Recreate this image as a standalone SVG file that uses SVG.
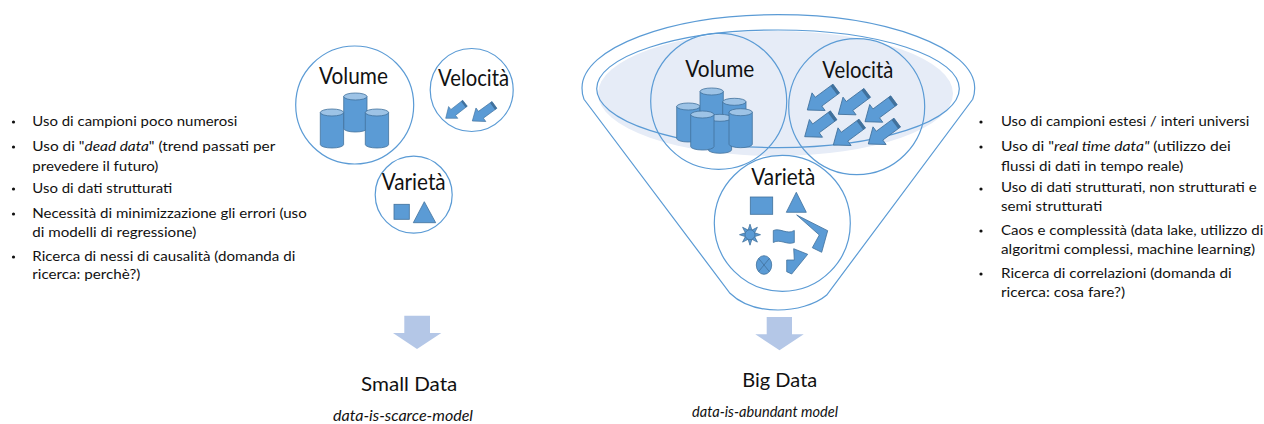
<svg xmlns="http://www.w3.org/2000/svg" xmlns:xlink="http://www.w3.org/1999/xlink" width="1264" height="424" viewBox="0 0 1264 424">
<style>
text{font-family:"Lato","Open Sans","Liberation Sans",sans-serif;fill:#111}
.t{font-size:23.5px}
.h{font-size:20px}
.s{font-size:15px;font-style:italic}
.b{font-size:13px}
.i{font-style:italic}
.ring{fill:none;stroke:#5b9bd5;stroke-width:1.2}
.shape{fill:#5b9bd5;stroke:#41719c;stroke-width:.8}
.top{fill:#9dc3e6;stroke:#41719c;stroke-width:.8}
.cap{fill:#41719c}
.down{fill:#b4c7e7}
.dot{fill:#111}
</style>
<defs>
<g id="cyl">
<path class="shape" d="M0 3.5V35.5A11.65 3.5 0 0 0 23.3 35.5V3.5Z"/>
<ellipse class="top" cx="11.65" cy="3.5" rx="11.65" ry="3.5"/>
</g>
<g id="arr">
<polygon class="shape" points="0,0 14,-11 14,-5.5 36,-5.5 36,5.5 14,5.5 14,11"/>
<rect class="cap" x="33" y="-5.5" width="3" height="11"/>
</g>
</defs>
<rect width="1264" height="424" fill="#fff"/>

<g id="small-volume">
<circle class="ring" cx="354.7" cy="105" r="59"/>
<text class="t" x="319" y="84" textLength="69" lengthAdjust="spacingAndGlyphs">Volume</text>
<use xlink:href="#cyl" x="343.7" y="93"/>
<use xlink:href="#cyl" x="320.3" y="109"/>
<use xlink:href="#cyl" x="365.3" y="109"/>
</g>
<g id="small-velocita">
<circle class="ring" cx="471.7" cy="90" r="41.5"/>
<text class="t" x="438" y="86" textLength="71" lengthAdjust="spacingAndGlyphs">Velocità</text>
<use xlink:href="#arr" transform="translate(445.7 118.3) rotate(-38) scale(.68)"/>
<use xlink:href="#arr" transform="translate(472.3 121) rotate(-36) scale(.76)"/>
</g>
<g id="small-varieta">
<circle class="ring" cx="413.7" cy="194.7" r="38.5"/>
<text class="t" x="381.7" y="190" textLength="64" lengthAdjust="spacingAndGlyphs">Varietà</text>
<rect class="shape" x="394" y="204.3" width="15.3" height="15"/>
<polygon class="shape" points="424.3,201.7 413.3,222.7 435.7,222.7"/>
</g>

<g id="funnel">
<ellipse cx="775.5" cy="93.5" rx="177.5" ry="62.5" fill="#e6ecf7"/>
<path class="ring" d="M584 99.3C582 95 582 91 582 88C582 48 670 14.7 778 14.7C886 14.7 974.7 48 974.7 88C974.7 92 974 96 972.7 99.3L826.7 295C815 305 795 310 778 310C760 310 742 305 730 293.3Z"/>
<ellipse class="ring" cx="778" cy="88.8" rx="181.3" ry="58.8"/>
</g>
<g id="big-volume">
<circle class="ring" cx="718.7" cy="101.3" r="68"/>
<text class="t" x="685.3" y="76.7" textLength="69" lengthAdjust="spacingAndGlyphs">Volume</text>
<use xlink:href="#cyl" x="676.7" y="103"/>
<use xlink:href="#cyl" x="700" y="88"/>
<use xlink:href="#cyl" x="722.7" y="98.3"/>
<use xlink:href="#cyl" x="708.3" y="114.3"/>
<use xlink:href="#cyl" x="690.7" y="111"/>
<use xlink:href="#cyl" x="729" y="108.7"/>
</g>
<g id="big-velocita">
<circle class="ring" cx="856.7" cy="106.7" r="68"/>
<text class="t" x="822.3" y="78" textLength="71" lengthAdjust="spacingAndGlyphs">Velocità</text>
<use xlink:href="#arr" transform="translate(807.3 110) rotate(-36.5)"/>
<use xlink:href="#arr" transform="translate(838.3 114.3) rotate(-36.5)"/>
<use xlink:href="#arr" transform="translate(865 121.7) rotate(-36.5)"/>
<use xlink:href="#arr" transform="translate(804.7 136.7) rotate(-36.5)"/>
<use xlink:href="#arr" transform="translate(833.3 145) rotate(-36.5)"/>
<use xlink:href="#arr" transform="translate(868.3 144) rotate(-36.5)"/>
</g>
<g id="big-varieta">
<circle class="ring" cx="782.3" cy="223.3" r="68"/>
<text class="t" x="751.3" y="185.3" textLength="64" lengthAdjust="spacingAndGlyphs">Varietà</text>
<rect class="shape" x="750.3" y="197" width="22.4" height="17.3"/>
<polygon class="shape" points="796.3,192.3 786.3,212.3 806.3,212.3"/>
<polygon class="shape" points="796.7,215 827.7,230.7 821.7,252.3 812.3,247.7 819.3,235"/>
<polygon class="shape" points="760.5,234.7 754.6,236.6 757.4,242.1 751.9,239.3 750,245.2 748.1,239.3 742.6,242.1 745.4,236.6 739.5,234.7 745.4,232.8 742.6,227.3 748.1,230.1 750,224.2 751.9,230.1 757.4,227.3 754.6,232.8"/>
<circle class="shape" cx="750" cy="234.7" r="5"/>
<path class="shape" d="M773.3 230.5C780 227.5 787 235 794.3 230.5V242.5C787 245.5 780 238.5 773.3 242.5Z"/>
<ellipse class="shape" cx="764" cy="265" rx="7.7" ry="9.3"/>
<path d="M758.6 258.4L769.4 271.6M769.4 258.4L758.6 271.6" stroke="#41719c" stroke-width=".8" fill="none"/>
<polygon class="shape" points="786.7,260 794.3,260 793.7,248.7 807.7,254.3 791.7,274 786.7,271.7"/>
</g>

<g id="connectors">
<polygon class="down" points="404.3,315.7 430,315.7 430,333 441.3,333 417,349 393,333 404.3,333"/>
<polygon class="down" points="766.7,317 792,317 792,334.3 803.7,334.3 779.5,350.3 755.3,334.3 766.7,334.3"/>
</g>

<g id="small-data-label">
<text class="h" x="361" y="391" textLength="96.3" lengthAdjust="spacingAndGlyphs">Small Data</text>
<text class="s" x="333" y="420.7" textLength="140" lengthAdjust="spacingAndGlyphs">data-is-scarce-model</text>
</g>
<g id="big-data-label">
<text class="h" x="742.3" y="387" textLength="75" lengthAdjust="spacingAndGlyphs">Big Data</text>
<text class="s" x="692" y="417" textLength="146" lengthAdjust="spacingAndGlyphs">data-is-abundant model</text>
</g>

<g id="small-data-list">
<circle class="dot" cx="13.5" cy="122" r="1.6"/>
<circle class="dot" cx="13.5" cy="147" r="1.6"/>
<circle class="dot" cx="13.5" cy="189" r="1.6"/>
<circle class="dot" cx="13.5" cy="214" r="1.6"/>
<circle class="dot" cx="13.5" cy="257" r="1.6"/>
<text class="b" x="32.3" y="125.7" textLength="205" lengthAdjust="spacingAndGlyphs">Uso di campioni poco numerosi</text>
<text class="b" x="32.3" y="151" textLength="243" lengthAdjust="spacingAndGlyphs">Uso di "<tspan class="i">dead data</tspan>" (trend passati per</text>
<text class="b" x="32.3" y="170.7" textLength="126" lengthAdjust="spacingAndGlyphs">prevedere il futuro)</text>
<text class="b" x="32.3" y="193" textLength="140" lengthAdjust="spacingAndGlyphs">Uso di dati strutturati</text>
<text class="b" x="32.3" y="218.3" textLength="274.4" lengthAdjust="spacingAndGlyphs">Necessità di minimizzazione gli errori (uso</text>
<text class="b" x="32.3" y="237.3" textLength="164" lengthAdjust="spacingAndGlyphs">di modelli di regressione)</text>
<text class="b" x="32.3" y="261" textLength="263" lengthAdjust="spacingAndGlyphs">Ricerca di nessi di causalità (domanda di</text>
<text class="b" x="32.3" y="279" textLength="108" lengthAdjust="spacingAndGlyphs">ricerca: perchè?)</text>
</g>
<g id="big-data-list">
<circle class="dot" cx="981" cy="122" r="1.6"/>
<circle class="dot" cx="981" cy="147" r="1.6"/>
<circle class="dot" cx="981" cy="189" r="1.6"/>
<circle class="dot" cx="981" cy="231" r="1.6"/>
<circle class="dot" cx="981" cy="274" r="1.6"/>
<text class="b" x="1001" y="125.7" textLength="248.3" lengthAdjust="spacingAndGlyphs">Uso di campioni estesi / interi universi</text>
<text class="b" x="1001" y="151" textLength="229.7" lengthAdjust="spacingAndGlyphs">Uso di "<tspan class="i">real time data"</tspan> (utilizzo dei</text>
<text class="b" x="1001" y="170.7" textLength="182.3" lengthAdjust="spacingAndGlyphs">flussi di dati in tempo reale)</text>
<text class="b" x="1001" y="192.3" textLength="255.7" lengthAdjust="spacingAndGlyphs">Uso di dati strutturati, non strutturati e</text>
<text class="b" x="1001" y="210.7" textLength="101.3" lengthAdjust="spacingAndGlyphs">semi strutturati</text>
<text class="b" x="1001" y="235" textLength="262.3" lengthAdjust="spacingAndGlyphs">Caos e complessità (data lake, utilizzo di</text>
<text class="b" x="1001" y="254.3" textLength="254" lengthAdjust="spacingAndGlyphs">algoritmi complessi, machine learning)</text>
<text class="b" x="1001" y="278.3" textLength="230.7" lengthAdjust="spacingAndGlyphs">Ricerca di correlazioni (domanda di</text>
<text class="b" x="1001" y="296.7" textLength="124" lengthAdjust="spacingAndGlyphs">ricerca: cosa fare?)</text>
</g>
</svg>
